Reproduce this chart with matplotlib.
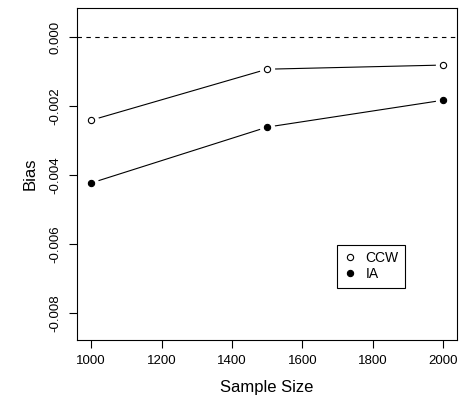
import matplotlib
matplotlib.use('Agg')
import matplotlib.pyplot as plt

plt.rcParams['font.family'] = ['Liberation Sans', 'DejaVu Sans']

# values
sample_size = [1000, 1500, 2000]
bias_ccw = [-0.00241, -0.00093, -0.00081]
bias_ia = [-0.00423, -0.00261, -0.00183]
xticks = [1000, 1200, 1400, 1600, 1800, 2000]
yticks = [0.0, -0.002, -0.004, -0.006, -0.008]

fig = plt.figure(figsize=(4.59, 4.08), dpi=100)
ax = fig.add_axes([0.168, 0.167, 0.828, 0.813])

ax.axhline(0, color='black', lw=0.8, ls=(0, (4, 4)))

# R type="b": lines with gaps around the points
for y, face in [(bias_ccw, 'white'), (bias_ia, 'black')]:
    ax.plot(sample_size, y, color='black', lw=0.8, zorder=2)
    ax.plot(sample_size, y, ls='none', marker='o', ms=11, mfc='white', mec='none', zorder=3)
    ax.plot(sample_size, y, ls='none', marker='o', ms=4.5, mfc=face, mec='black', mew=0.8, zorder=4)

ax.set_xlim(960, 2040)
ax.set_ylim(-0.00878, 0.00084)
ax.set_xticks(xticks)
ax.set_yticks(yticks)
ax.set_yticklabels(['%.3f' % t if t != 0 else '0.000' for t in yticks], rotation=90, va='center')
ax.tick_params(direction='out', length=6, width=0.8, labelsize=9.5, pad=5)
for s in ax.spines.values():
    s.set_linewidth(0.8)

ax.set_xlabel('Sample Size', fontsize=12, labelpad=9)
ax.set_ylabel('Bias', fontsize=12, labelpad=9)

h1, = ax.plot([], [], ls='none', marker='o', ms=4.5, mfc='white', mec='black', mew=0.8)
h2, = ax.plot([], [], ls='none', marker='o', ms=4.5, mfc='black', mec='black', mew=0.8)
leg = ax.legend([h1, h2], ['CCW', 'IA'], loc='upper left', bbox_to_anchor=(0.666, 0.307),
                fontsize=10, fancybox=False, framealpha=1, edgecolor='black',
                handlelength=1.0, handletextpad=0.6, borderpad=0.45, labelspacing=0.15)
leg.get_frame().set_linewidth(0.8)

fig.savefig('out.png', dpi=100)
